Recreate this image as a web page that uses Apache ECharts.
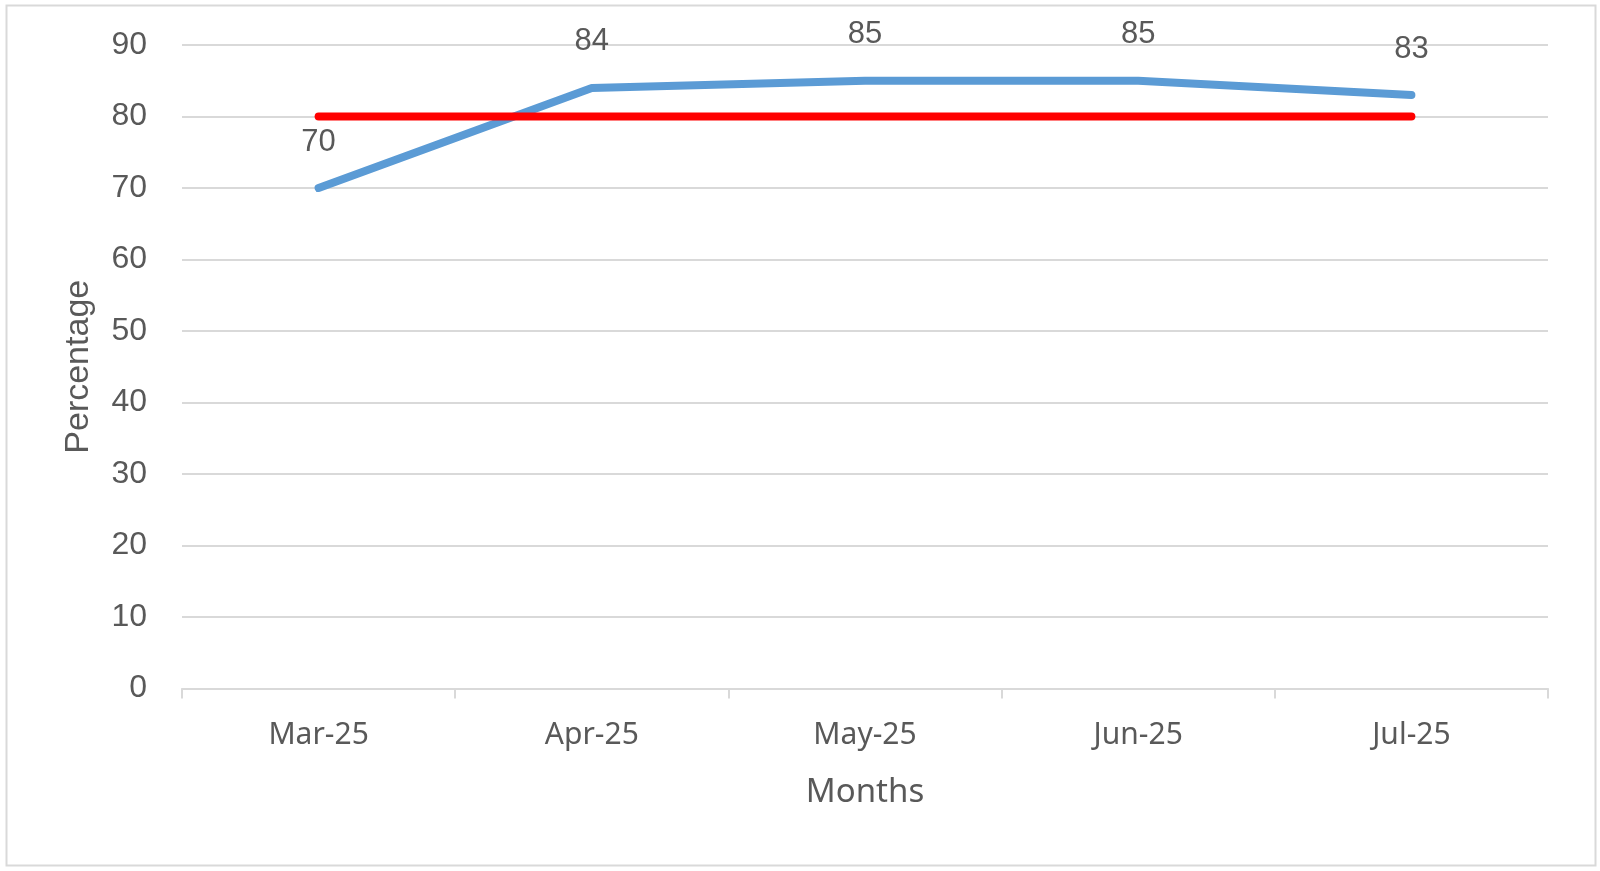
<!DOCTYPE html>
<html>
<head>
<meta charset="utf-8">
<script src="https://cdn.jsdelivr.net/npm/echarts@6/dist/echarts.min.js"></script>
<style>
html,body{margin:0;padding:0;background:#fff;}
#chart{width:1600px;height:871px;}
</style>
</head>
<body>
<div id="chart"></div>
<script>
const months = ['Mar-25', 'Apr-25', 'May-25', 'Jun-25', 'Jul-25'];
const actualValues = [70, 84, 85, 85, 83];
const targetValues = [80, 80, 80, 80, 80];
const yTicks = { min: 0, max: 90, interval: 10 };

const textColor = '#595959';
const chart = echarts.init(document.getElementById('chart'));
chart.setOption({
  animation: false,
  backgroundColor: '#fff',
  graphic: [{
    type: 'rect', left: 4, top: 3,
    shape: { width: 1589, height: 860 },
    style: { fill: 'none', stroke: '#d9d9d9', lineWidth: 2 },
    z: -1
  }],
  grid: { left: 182, right: 52, top: 45, bottom: 182.5, containLabel: false },
  xAxis: {
    type: 'category',
    data: months,
    boundaryGap: true,
    name: 'Months',
    nameLocation: 'middle',
    nameGap: 88,
    nameTextStyle: { color: textColor, fontSize: 33, fontFamily: 'Noto Sans' },
    axisLine: { lineStyle: { color: '#d9d9d9', width: 2 } },
    axisTick: { show: true, length: 10, lineStyle: { color: '#d9d9d9', width: 2 } },
    axisLabel: { color: textColor, fontSize: 30, fontFamily: 'Noto Sans', margin: 32 },
    splitLine: { show: false }
  },
  yAxis: {
    type: 'value',
    min: yTicks.min, max: yTicks.max, interval: yTicks.interval,
    name: 'Percentage',
    nameLocation: 'middle',
    nameGap: 86,
    nameTextStyle: { color: textColor, fontSize: 34, fontFamily: 'Liberation Sans' },
    axisLine: { show: false },
    axisTick: { show: false },
    axisLabel: { color: textColor, fontSize: 32, fontFamily: 'Liberation Sans', margin: 35 },
    splitLine: { lineStyle: { color: '#d9d9d9', width: 2 } }
  },
  series: [
    {
      name: 'Target',
      type: 'line',
      data: targetValues,
      symbol: 'none',
      lineStyle: { color: '#ff0000', width: 8, cap: 'round', join: 'round' },
      z: 3
    },
    {
      name: 'Actual',
      type: 'line',
      data: actualValues,
      symbol: 'circle',
      symbolSize: 1,
      itemStyle: { color: '#5b9bd5', opacity: 0 },
      lineStyle: { color: '#5b9bd5', width: 8, cap: 'round', join: 'round' },
      label: {
        show: true, position: 'top', distance: 30,
        color: textColor, fontSize: 31, fontFamily: 'Liberation Sans', opacity: 1
      },
      z: 2
    }
  ]
});
</script>
</body>
</html>
